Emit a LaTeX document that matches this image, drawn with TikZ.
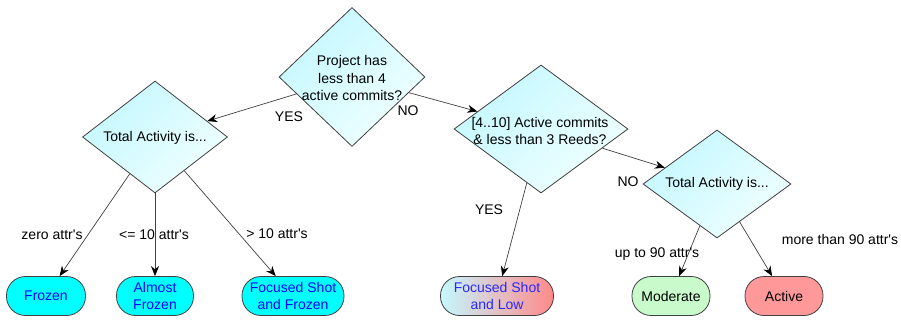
\documentclass[tikz,border=0pt]{standalone}
\usepackage{fontspec}
\setmainfont{Liberation Sans}
\usetikzlibrary{arrows.meta,shapes.geometric}
\definecolor{qcyan}{HTML}{C4F8FF}
\definecolor{qpale}{HTML}{F0FFFF}
\definecolor{frz}{HTML}{00FFFF}
\definecolor{modgreen}{HTML}{C8FACC}
\definecolor{actred}{HTML}{FF9999}
\definecolor{edgegray}{HTML}{404040}
\definecolor{lowblue}{HTML}{2828FF}

\begin{document}
\begin{tikzpicture}[x=1pt,y=-1pt,
		font=\fontsize{14}{17.5}\selectfont,
		question/.style={diamond, draw=edgegray, line width=0.8pt, top color=qcyan, bottom color=qpale, shading angle=45, inner sep=0pt},
		leaf/.style={rectangle, rounded corners=19pt, draw=edgegray, line width=0.8pt, minimum height=39pt, inner sep=0pt, align=center},
		arr/.style={draw=edgegray, line width=0.7pt, -{Stealth[length=10pt,width=8pt,black]}}]
		\useasboundingbox (0,0) rectangle (901,323);
		
		% decision diamonds
		\node[question, minimum width=146pt, minimum height=139pt] (proj) at (352,77) {};
		\node[question, minimum width=145pt, minimum height=112pt] (totl) at (155,137) {};
		\node[question, minimum width=174pt, minimum height=128pt] (mid) at (541,129) {};
		\node[question, minimum width=148pt, minimum height=108pt] (totr) at (717,184) {};
		
		\node[align=center] (projtxt) at (352,78) {Project has\\less than 4\\active commits?};
		\node (totltxt) at (155,138) {Total Activity is...};
		\node[align=center] (midtxt) at (540,131) {[4..10] Active commits\\\& less than 3 Reeds?};
		\node (totrtxt) at (717,184) {Total Activity is...};
		
		% outcomes
		\node[leaf, fill=frz, text=blue, minimum width=79pt] (frozen) at (46,296) {Frozen};
		\node[leaf, fill=frz, text=blue, minimum width=77pt] (almost) at (155,296) {Almost\\Frozen};
		\node[leaf, fill=frz, text=blue, minimum width=102pt] (fsfrozen) at (293,296) {Focused Shot\\and Frozen};
		\node[leaf, left color=qcyan, right color=actred!90!red, text=lowblue, minimum width=113pt] (fslow) at (497,296) {Focused Shot\\and Low};
		\node[leaf, fill=modgreen, minimum width=78pt] (moderate) at (671,296) {Moderate};
		\node[leaf, fill=actred, minimum width=78pt] (active) at (784,296) {Active};
		
		% connectors
		\draw[arr] (proj) -- (totl);
		\draw[arr] (proj) -- (mid);
		\draw[arr] (mid) -- (totr);
		\draw[arr] (mid) -- (fslow);
		\draw[arr] (totl) -- (frozen);
		\draw[arr] (totl) -- (almost);
		\draw[arr] (totl) -- (fsfrozen);
		\draw[arr] (totr) -- (moderate);
		\draw[arr] (totr) -- (active);
		
		% branch labels
		\node (yesl) at (289,117) {YES};
		\node (nor) at (408,111) {NO};
		\node (yesm) at (489,210) {YES};
		\node (nom) at (628,182) {NO};
		\node (zero) at (52,235) {zero attr\textquotesingle s};
		\node (leten) at (154,235) {<= 10 attr\textquotesingle s};
		\node (gtten) at (277,234) {> 10 attr\textquotesingle s};
		\node (upto) at (657,254) {up to 90 attr\textquotesingle s};
		\node (more) at (840,239) {more than 90 attr\textquotesingle s};
	\end{tikzpicture}
\end{document}
